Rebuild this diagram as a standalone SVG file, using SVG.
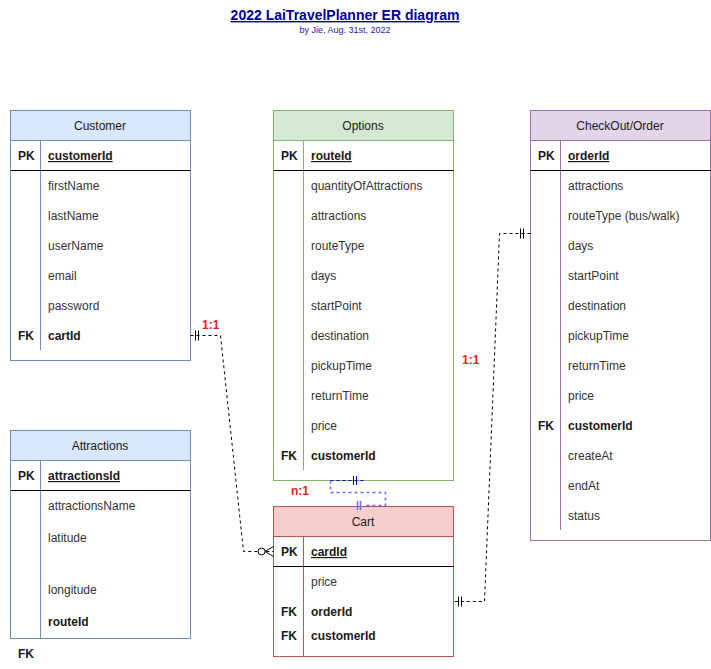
<svg xmlns="http://www.w3.org/2000/svg" width="711" height="669" viewBox="0 0 711 669">
<style>
text{font-family:"Liberation Sans",Arial,sans-serif;font-size:12px;fill:#333333}
.h{text-anchor:middle;fill:#1a1a1a}
.k{fill:#000000}
.b{font-weight:bold;fill:#1a1a1a}
.u{text-decoration:underline}
.sep{stroke:#000000;stroke-width:1}
.lbl{font-weight:bold;fill:#e51f1f;font-size:12px}
.edge{fill:none;stroke:#000000;stroke-width:1;stroke-dasharray:3 3}
.mk{fill:none;stroke:#000000;stroke-width:1}
</style>
<rect x="0" y="0" width="711" height="669" fill="#ffffff"/>
<g id="title">
<text x="345" y="20" style="text-anchor:middle;font-weight:bold;font-size:14px;fill:#000099;text-decoration:underline">2022 LaiTravelPlanner ER diagram</text>
<text x="345" y="33" style="text-anchor:middle;font-size:9px;fill:#1a1aa6">by Jie, Aug. 31st, 2022</text>
</g>
<g id="customer">
<rect x="10.5" y="110.5" width="180" height="250" fill="#ffffff" stroke="#6c8ebf"/>
<rect x="10.5" y="110.5" width="180" height="30" fill="#dae8fc" stroke="#6c8ebf"/>
<line x1="40.5" y1="140.5" x2="40.5" y2="350" stroke="#6c8ebf"/>
<line class="sep" x1="10.5" y1="170.5" x2="190.5" y2="170.5"/>
<text class="h" x="100" y="130">Customer</text>
<text class="b" x="18" y="160">PK</text>
<text class="b u" x="48" y="160">customerId</text>
<text x="48" y="190">firstName</text>
<text x="48" y="220">lastName</text>
<text x="48" y="250">userName</text>
<text x="48" y="280">email</text>
<text x="48" y="310">password</text>
<text class="b" x="18" y="340">FK</text>
<text class="b" x="48" y="340">cartId</text>
</g>
<g id="options">
<rect x="273.5" y="110.5" width="180" height="370" fill="#ffffff" stroke="#82b366"/>
<rect x="273.5" y="110.5" width="180" height="30" fill="#d5e8d4" stroke="#82b366"/>
<line x1="303.5" y1="140.5" x2="303.5" y2="470" stroke="#82b366"/>
<line class="sep" x1="273.5" y1="170.5" x2="453.5" y2="170.5"/>
<text class="h" x="363" y="130">Options</text>
<text class="b" x="281" y="160">PK</text>
<text class="b u" x="311" y="160">routeId</text>
<text x="311" y="190">quantityOfAttractions</text>
<text x="311" y="220">attractions</text>
<text x="311" y="250">routeType</text>
<text x="311" y="280">days</text>
<text x="311" y="310">startPoint</text>
<text x="311" y="340">destination</text>
<text x="311" y="370">pickupTime</text>
<text x="311" y="400">returnTime</text>
<text x="311" y="430">price</text>
<text class="b" x="281" y="460">FK</text>
<text class="b" x="311" y="460">customerId</text>
</g>
<g id="checkout">
<rect x="530.5" y="110.5" width="180" height="430" fill="#ffffff" stroke="#9673a6"/>
<rect x="530.5" y="110.5" width="180" height="30" fill="#e1d5e7" stroke="#9673a6"/>
<line x1="560.5" y1="140.5" x2="560.5" y2="530" stroke="#9673a6"/>
<line class="sep" x1="530.5" y1="170.5" x2="710.5" y2="170.5"/>
<text class="h" x="620" y="130">CheckOut/Order</text>
<text class="b" x="538" y="160">PK</text>
<text class="b u" x="568" y="160">orderId</text>
<text x="568" y="190">attractions</text>
<text x="568" y="220">routeType (bus/walk)</text>
<text x="568" y="250">days</text>
<text x="568" y="280">startPoint</text>
<text x="568" y="310">destination</text>
<text x="568" y="340">pickupTime</text>
<text x="568" y="370">returnTime</text>
<text x="568" y="400">price</text>
<text class="b" x="538" y="430">FK</text>
<text class="b" x="568" y="430">customerId</text>
<text x="568" y="460">createAt</text>
<text x="568" y="490">endAt</text>
<text x="568" y="520">status</text>
</g>
<g id="attractions">
<rect x="10.5" y="430.5" width="180" height="208" fill="#ffffff" stroke="#6c8ebf"/>
<rect x="10.5" y="430.5" width="180" height="30" fill="#dae8fc" stroke="#6c8ebf"/>
<line x1="40.5" y1="460.5" x2="40.5" y2="638.5" stroke="#6c8ebf"/>
<line class="sep" x1="10.5" y1="490.5" x2="190.5" y2="490.5"/>
<text class="h" x="100" y="450">Attractions</text>
<text class="b" x="18" y="480">PK</text>
<text class="b u" x="48" y="480">attractionsId</text>
<text x="48" y="510">attractionsName</text>
<text x="48" y="542">latitude</text>
<text x="48" y="594">longitude</text>
<text class="b" x="48" y="626">routeId</text>
<text class="b" x="18" y="658">FK</text>
</g>
<g id="cart">
<rect x="273.5" y="506.5" width="180" height="150" fill="#ffffff" stroke="#b85450"/>
<rect x="273.5" y="506.5" width="180" height="30" fill="#f8cecc" stroke="#b85450"/>
<line x1="303.5" y1="536.5" x2="303.5" y2="656.5" stroke="#b85450"/>
<line class="sep" x1="273.5" y1="566.5" x2="453.5" y2="566.5"/>
<text class="h" x="363" y="526">Cart</text>
<text class="b" x="281" y="556">PK</text>
<text class="b u" x="311" y="556">cardId</text>
<text x="311" y="586">price</text>
<text class="b" x="281" y="616">FK</text>
<text class="b" x="311" y="616">orderId</text>
<text class="b" x="281" y="640">FK</text>
<text class="b" x="311" y="640">customerId</text>
</g>
<g id="connectors">
<path class="edge" d="M190.5,335.5 L220.5,335.5 L243.5,551.5 L273.5,551.5"/>
<path class="mk" d="M195.5,330.5 V340.5 M198.5,330.5 V340.5"/>
<circle cx="261.5" cy="551.5" r="3.5" fill="#ffffff" stroke="#000000"/>
<path class="mk" d="M273.5,546.5 L265,551.5 L273.5,556.5"/>
<path class="edge" d="M530.5,233.5 L499.5,233.5 L484.5,601.5 L453.5,601.5"/>
<path class="mk" d="M520.5,228.5 V238.5 M523.5,228.5 V238.5"/>
<path class="mk" d="M458.5,596.5 V606.5 M461.5,596.5 V606.5"/>
<path d="M363.5,480.5 L330.5,480.5" fill="none" stroke="#0000cc" stroke-dasharray="3 3"/>
<path d="M330.5,480.5 L330.5,492.5 L385.5,492.5 L385.5,505.5 L363.5,505.5" fill="none" stroke="#6a6aff" stroke-width="1.5" stroke-dasharray="3 3"/>
<path d="M353.5,476 V485 M356.5,476 V485" fill="none" stroke="#0000cc"/>
<path d="M357.5,501 V510 M360.5,501 V510" fill="none" stroke="#6a6aff" stroke-width="1.5"/>
<text class="lbl" x="202" y="329">1:1</text>
<text class="lbl" x="462" y="364">1:1</text>
<text class="lbl" x="291" y="495">n:1</text>
</g>
</svg>
